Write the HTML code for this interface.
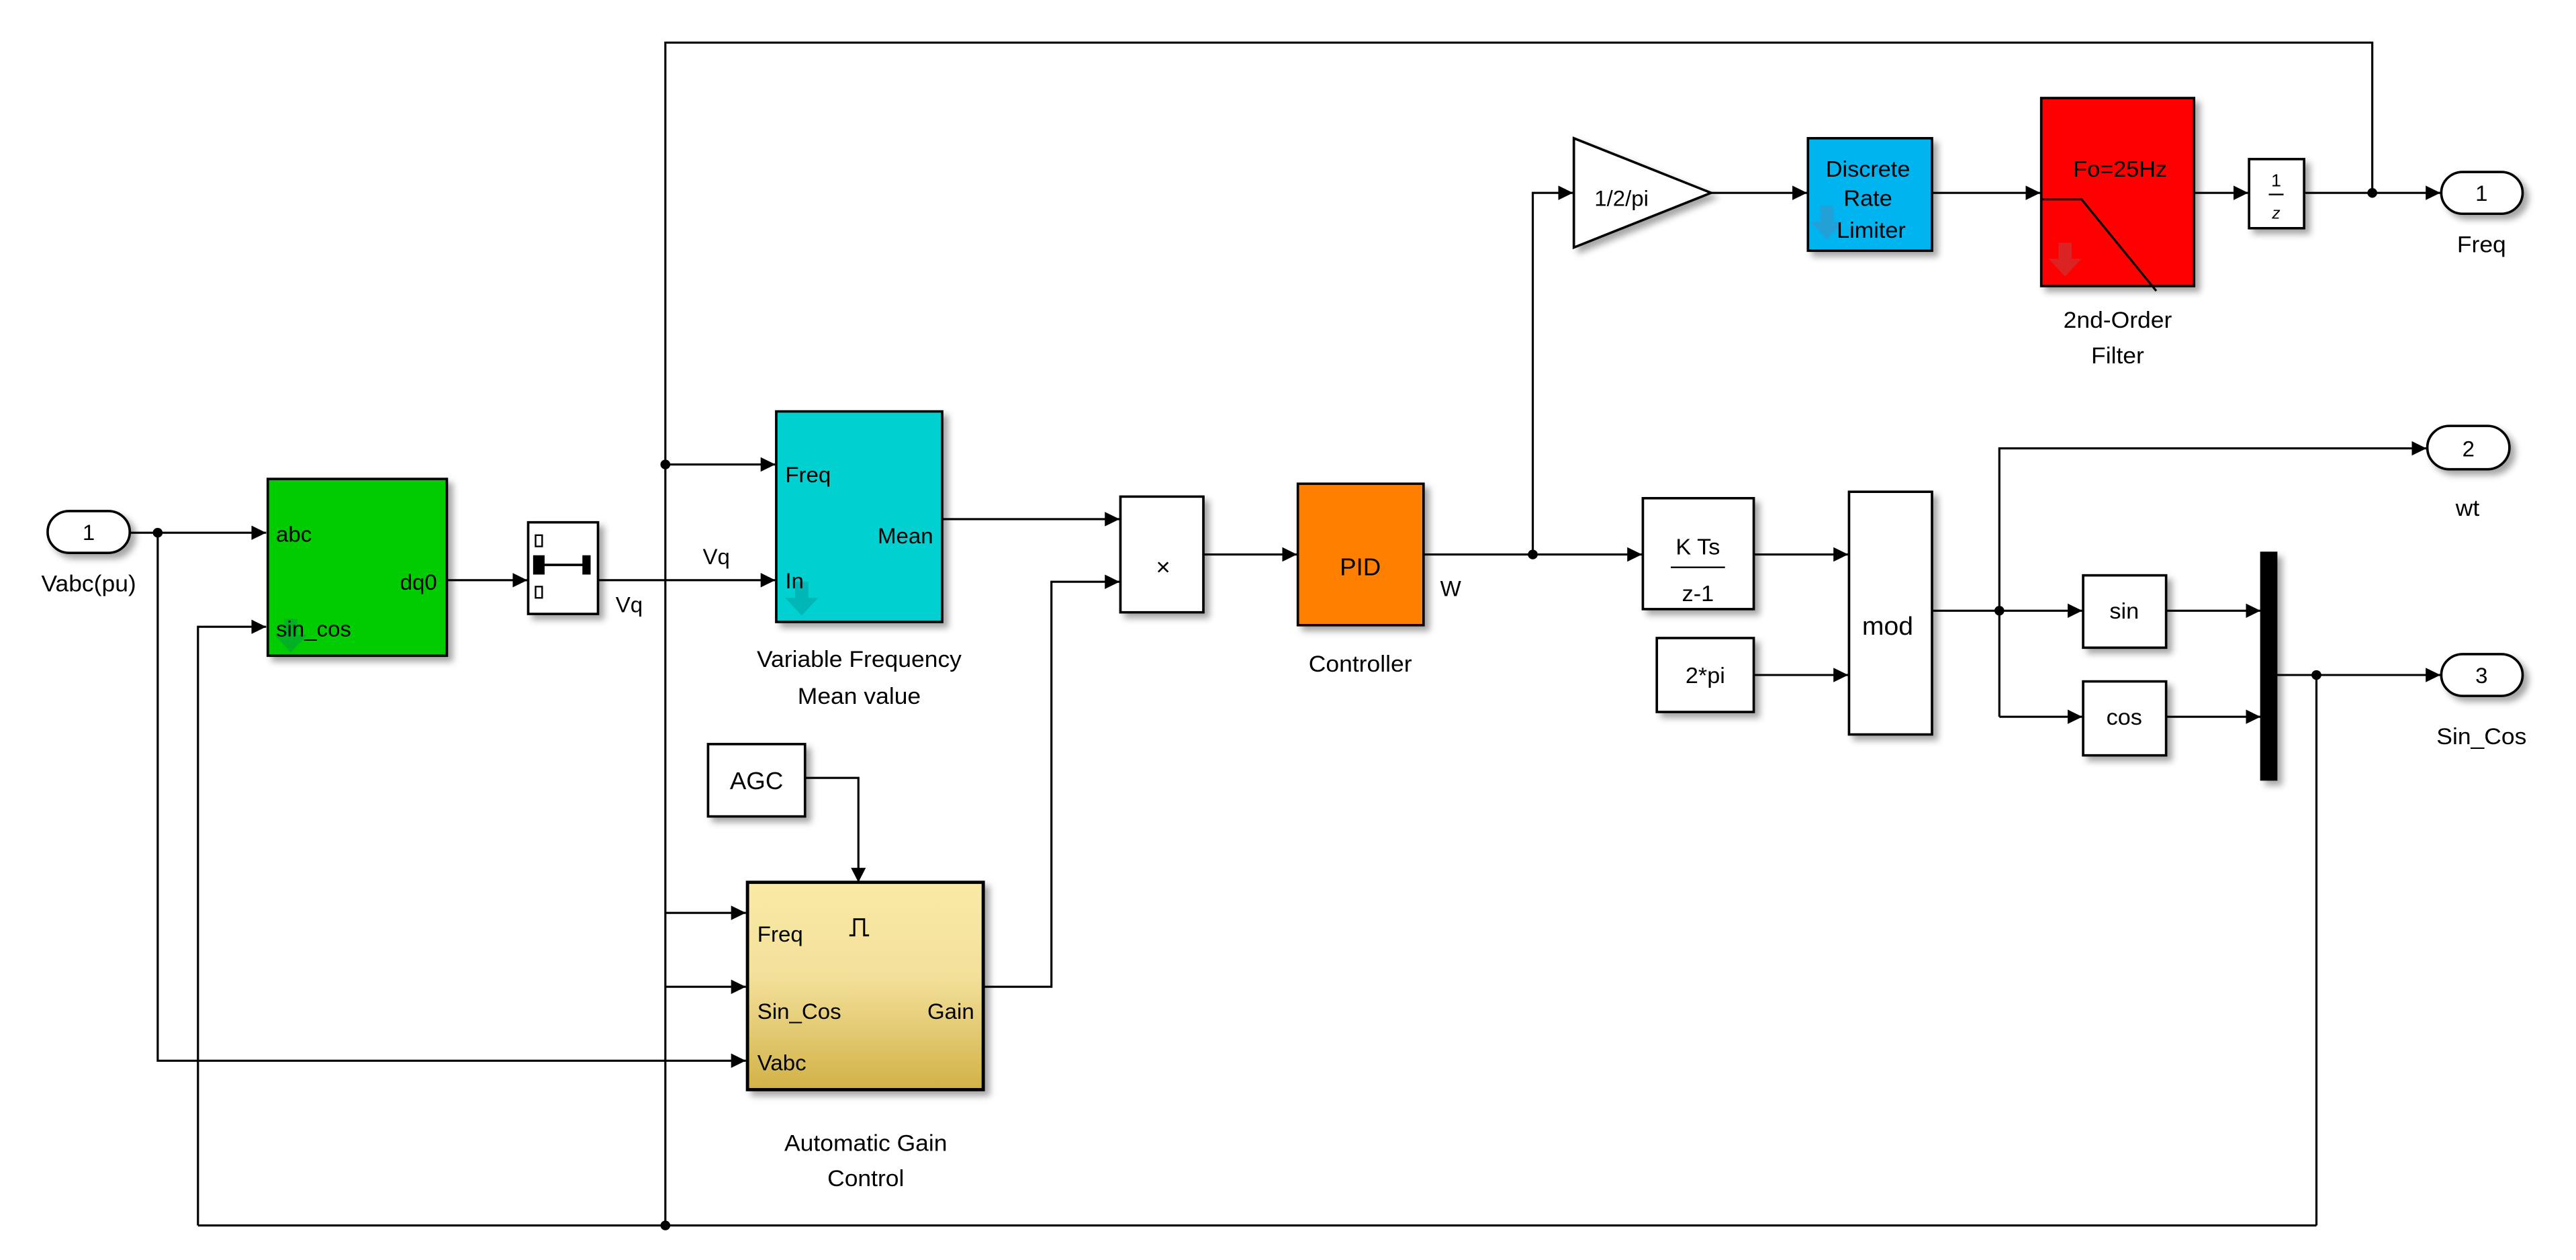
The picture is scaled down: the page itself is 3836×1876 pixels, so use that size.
<!DOCTYPE html>
<html><head><meta charset="utf-8"><style>html,body{margin:0;padding:0;background:#fff}svg{display:block}</style></head>
<body>
<svg width="3836" height="1876" viewBox="0 0 1568 784" preserveAspectRatio="none" xmlns="http://www.w3.org/2000/svg" font-family="Liberation Sans, sans-serif">
<defs>
<marker id="a" markerWidth="10" markerHeight="10" refX="9" refY="5" orient="auto" markerUnits="userSpaceOnUse"><path d="M0,0.5 L9,5 L0,9.5 Z" fill="#000"/></marker>
<filter id="s" x="-20%" y="-20%" width="150%" height="150%"><feDropShadow dx="3" dy="3" stdDeviation="2" flood-color="#000" flood-opacity="0.35"/></filter>
<linearGradient id="y" x1="0" y1="0" x2="0" y2="1"><stop offset="0" stop-color="#f9eaa6"/><stop offset="0.45" stop-color="#f3e09a"/><stop offset="1" stop-color="#d2b247"/></linearGradient>
</defs>
<g stroke="#000" stroke-width="1.3" fill="none">
<polyline points="1444,123 1444,26.5 405,26.5 405,762.5"/>
<line x1="120.5" y1="762.5" x2="1410" y2="762.5"/>
<polyline points="120.5,762.5 120.5,390 162,390" marker-end="url(#a)"/>
<polyline points="79,331.5 162,331.5" marker-end="url(#a)"/>
<polyline points="96,331.5 96,660 454,660" marker-end="url(#a)"/>
<polyline points="272,361 321,361" marker-end="url(#a)"/>
<polyline points="364,361 472,361" marker-end="url(#a)"/>
<polyline points="405,289 472,289" marker-end="url(#a)"/>
<polyline points="405,568 454,568" marker-end="url(#a)"/>
<polyline points="405,614 454,614" marker-end="url(#a)"/>
<polyline points="490,484 522.5,484 522.5,549" marker-end="url(#a)"/>
<polyline points="598.5,614 640,614 640,362 681.5,362" marker-end="url(#a)"/>
<polyline points="573.5,323 681.5,323" marker-end="url(#a)"/>
<polyline points="732.5,345 789.5,345" marker-end="url(#a)"/>
<polyline points="866.5,345 999.5,345" marker-end="url(#a)"/>
<polyline points="933,345 933,120 957.5,120" marker-end="url(#a)"/>
<polyline points="1041.5,120 1100,120" marker-end="url(#a)"/>
<polyline points="1176,120 1242,120" marker-end="url(#a)"/>
<polyline points="1335.5,120 1368.5,120" marker-end="url(#a)"/>
<polyline points="1402.5,120 1485.5,120" marker-end="url(#a)"/>
<polyline points="1067.5,345 1125,345" marker-end="url(#a)"/>
<polyline points="1067.5,420 1125,420" marker-end="url(#a)"/>
<polyline points="1176,380 1267.5,380" marker-end="url(#a)"/>
<polyline points="1217,446 1217,279 1477,279" marker-end="url(#a)"/>
<polyline points="1217,446 1267.5,446" marker-end="url(#a)"/>
<polyline points="1318.5,380 1376,380" marker-end="url(#a)"/>
<polyline points="1318.5,446 1376,446" marker-end="url(#a)"/>
<polyline points="1385.5,420 1485.5,420" marker-end="url(#a)"/>
<line x1="1410" y1="420" x2="1410" y2="762.5"/>
</g>
<g fill="#000">
<circle cx="96" cy="331.5" r="3"/><circle cx="405" cy="289" r="3"/><circle cx="405" cy="762.5" r="3"/>
<circle cx="933" cy="345" r="3"/><circle cx="1444" cy="120" r="3"/><circle cx="1217" cy="380" r="3"/><circle cx="1410" cy="420" r="3"/>
</g>
<g stroke="#000" stroke-width="1.5" filter="url(#s)">
<rect x="29" y="318" width="50" height="26" rx="13" fill="#fff"/>
<rect x="163" y="298" width="109" height="110" fill="#00cc00"/>
<rect x="321.5" y="325" width="42.5" height="57" fill="#fff"/>
<rect x="472.5" y="256" width="101" height="131" fill="#00d0d0"/>
<rect x="431" y="463" width="59" height="45" fill="#fff"/>
<rect x="455" y="549" width="143.5" height="129" fill="url(#y)" stroke-width="2"/>
<rect x="682" y="309" width="50.5" height="72" fill="#fff"/>
<rect x="790" y="301" width="76.5" height="88" fill="#ff8000"/>
<polygon points="958,86 1041.5,120 958,154" fill="#fff"/>
<rect x="1100.5" y="86" width="75.5" height="70" fill="#00b4f0"/>
<rect x="1242.5" y="61" width="93" height="117" fill="#ff0000"/>
<rect x="1369" y="99" width="33.5" height="43" fill="#fff"/>
<rect x="1486" y="107" width="49.5" height="26" rx="13" fill="#fff"/>
<rect x="1000" y="310" width="67.5" height="69" fill="#fff"/>
<rect x="1008.5" y="397" width="59" height="46" fill="#fff"/>
<rect x="1125.5" y="306" width="50.5" height="151" fill="#fff"/>
<rect x="1477.5" y="265" width="50" height="27" rx="13.5" fill="#fff"/>
<rect x="1268" y="358" width="50.5" height="45" fill="#fff"/>
<rect x="1268" y="424" width="50.5" height="46" fill="#fff"/>
<rect x="1376.5" y="344" width="9" height="141" fill="#000"/>
<rect x="1486" y="407" width="49.5" height="26" rx="13" fill="#fff"/>
</g>
<g stroke="#000" stroke-width="1">
<rect x="326" y="333" width="4" height="7" fill="#fff"/>
<rect x="326" y="365" width="4" height="7" fill="#fff"/>
<rect x="325" y="346" width="6" height="11" fill="#000"/>
<rect x="355" y="346" width="4" height="11" fill="#000"/>
<line x1="331" y1="351.5" x2="355" y2="351.5" stroke-width="1.5"/>
</g>
<polyline points="1243,124 1267,124 1312.5,181" stroke="#000" stroke-width="1.3" fill="none"/>
<polyline points="517,582 520,582 520,572 526,572 526,582 529,582" stroke="#000" stroke-width="1.2" fill="none"/>
<g opacity="0.55">
<path d="M173,385 h8 v10 h6 l-10,11 l-10,-11 h6 z" fill="#009a40"/>
<path d="M484,362 h8 v10 h6 l-10,11 l-10,-11 h6 z" fill="#00a0a0"/>
<path d="M1108,128 h8 v10 h6 l-10,11 l-10,-11 h6 z" fill="#4090c0"/>
<path d="M1253,151 h8 v10 h6 l-10,11 l-10,-11 h6 z" fill="#c04040"/>
</g>
<g fill="#000" font-size="13.5">
<text x="54" y="336" text-anchor="middle">1</text>
<text x="54" y="368" text-anchor="middle" font-size="14.5">Vabc(pu)</text>
<text x="168" y="337">abc</text>
<text x="168" y="396">sin_cos</text>
<text x="266" y="367" text-anchor="end">dq0</text>
<text x="436" y="351" text-anchor="middle">Vq</text>
<text x="383" y="381" text-anchor="middle">Vq</text>
<text x="478" y="300">Freq</text>
<text x="568" y="338" text-anchor="end">Mean</text>
<text x="478" y="366">In</text>
<text x="523" y="415" text-anchor="middle" font-size="14.5">Variable Frequency</text>
<text x="523" y="438" text-anchor="middle" font-size="14.5">Mean value</text>
<text x="460.5" y="491" text-anchor="middle" font-size="15">AGC</text>
<text x="461" y="586">Freq</text>
<text x="461" y="634">Sin_Cos</text>
<text x="593" y="634" text-anchor="end">Gain</text>
<text x="461" y="666">Vabc</text>
<text x="527" y="716" text-anchor="middle" font-size="14.5">Automatic Gain</text>
<text x="527" y="738" text-anchor="middle" font-size="14.5">Control</text>
<text x="708" y="358" text-anchor="middle" font-size="15">×</text>
<text x="828" y="358" text-anchor="middle" font-size="15">PID</text>
<text x="883" y="371" text-anchor="middle">W</text>
<text x="828" y="418" text-anchor="middle" font-size="14.5">Controller</text>
<text x="987" y="128" text-anchor="middle">1/2/pi</text>
<text x="1137" y="110" text-anchor="middle" font-size="14">Discrete</text>
<text x="1137" y="128" text-anchor="middle" font-size="14">Rate</text>
<text x="1139" y="148" text-anchor="middle" font-size="14">Limiter</text>
<text x="1290.5" y="110" text-anchor="middle" font-size="14">Fo=25Hz</text>
<text x="1289" y="204" text-anchor="middle" font-size="14.5">2nd-Order</text>
<text x="1289" y="226" text-anchor="middle" font-size="14.5">Filter</text>
<text x="1385.5" y="116" text-anchor="middle" font-size="11">1</text>
<line x1="1381" y1="121" x2="1390" y2="121" stroke="#000" stroke-width="1"/>
<text x="1385.5" y="136" text-anchor="middle" font-size="10" font-style="italic">z</text>
<text x="1510.5" y="125" text-anchor="middle">1</text>
<text x="1510.5" y="157" text-anchor="middle" font-size="14.5">Freq</text>
<text x="1033.5" y="345" text-anchor="middle" font-size="14">K Ts</text>
<line x1="1017" y1="353" x2="1050" y2="353" stroke="#000" stroke-width="1"/>
<text x="1033.5" y="374" text-anchor="middle" font-size="14">z-1</text>
<text x="1038" y="425" text-anchor="middle" font-size="14">2*pi</text>
<text x="1149" y="395" text-anchor="middle" font-size="16">mod</text>
<text x="1502.5" y="284" text-anchor="middle">2</text>
<text x="1502" y="321" text-anchor="middle" font-size="14.5">wt</text>
<text x="1293" y="385" text-anchor="middle" font-size="14">sin</text>
<text x="1293" y="451" text-anchor="middle" font-size="14">cos</text>
<text x="1510.5" y="425" text-anchor="middle">3</text>
<text x="1510.5" y="463" text-anchor="middle" font-size="14.5">Sin_Cos</text>
</g>
</svg>
</body></html>
